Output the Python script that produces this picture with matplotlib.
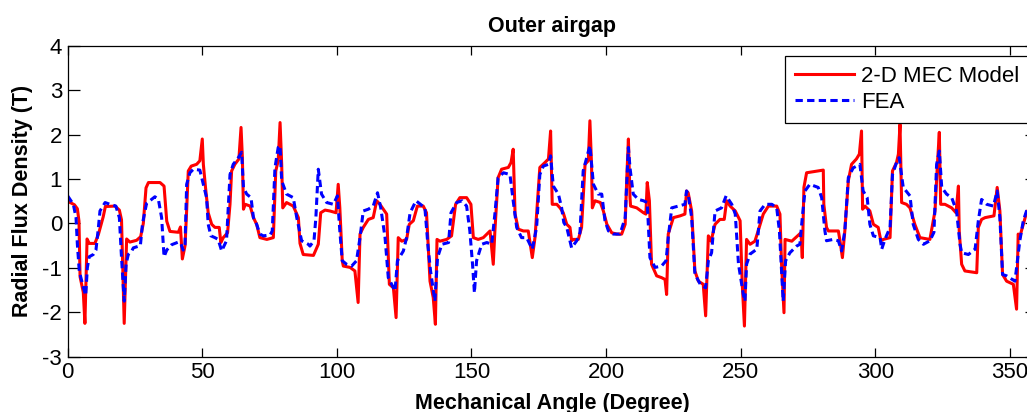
import matplotlib
matplotlib.use('Agg')
import matplotlib.pyplot as plt

plt.rcParams['font.family'] = ['Liberation Sans', 'DejaVu Sans']
plt.rcParams['axes.unicode_minus'] = False

# angle (degree) / radial flux density (T)
mec_angle = [0, 2.5, 3.6, 4.2, 4.6, 5.8, 6.4, 7.2, 8.0, 10.1, 11.4, 13.2, 14.0, 17.6, 19.2, 20.0, 20.7, 21.0, 21.9,
             23.1, 25.6, 27.1, 28.1, 29.1, 30.0, 34.3, 35.8, 36.8, 38.0, 41.1, 41.9, 42.6, 43.6, 44.2, 44.8, 45.9,
             47.9, 49.1, 50.0, 50.4, 51.2, 52.2, 53.5, 54.7, 56.3, 56.9, 57.8, 59.4, 60.3, 60.9, 62.1, 63.6, 64.4,
             64.9, 65.3, 66.0, 67.8, 69.0, 70.2, 71.4, 74.0, 76.4, 77.3, 78.2, 78.9, 79.5, 79.9, 81.3, 83.8, 85.7,
             86.3, 87.5, 91.3, 93.1, 94.0, 95.6, 97.4, 99.7, 100.5, 101.1, 102.0, 102.4, 104.9, 106.7, 107.9, 108.6,
             109.8, 111.7, 113.5, 114.8, 116.0, 118.5, 119.5, 121.0, 122.0, 122.8, 124.1, 125.9, 126.9, 128.4,
             129.9, 132.1, 133.3, 134.6, 135.8, 136.6, 137.2, 138.3, 140.8, 142.6, 144.1, 145.7, 148.2, 149.8,
             150.7, 152.5, 154.4, 156.9, 158.1, 158.7, 159.9, 161.2, 163.7, 164.7, 165.5, 166.2, 167.4, 169.3,
             171.1, 172.6, 173.6, 175.4, 177.3, 178.6, 179.4, 180.0, 181.7, 182.9, 184.1, 185.4, 186.6, 187.2,
             187.8, 189.7, 190.9, 192.2, 193.4, 194.0, 194.6, 194.9, 195.9, 197.9, 199.0, 200.3, 202.1, 204.0,
             205.8, 207.1, 207.7, 208.3, 208.9, 209.1, 211.4, 213.9, 214.8, 215.3, 216.1, 216.9, 218.8, 220.6,
             221.9, 222.5, 223.1, 225.0, 227.5, 229.3, 229.9, 230.5, 231.8, 233.0, 234.3, 236.1, 237.0, 238.0,
             239.0, 240.5, 242.3, 243.9, 244.8, 246.1, 248.0, 249.8, 250.6, 251.4, 252.2, 253.5, 255.3, 256.5,
             258.4, 260.3, 263.4, 264.6, 265.2, 266.1, 266.5, 269.0, 272.4, 272.9, 273.5, 274.5, 280.7, 280.9,
             281.9, 282.6, 286.3, 286.9, 287.8, 288.7, 290.0, 291.2, 293.0, 294.1, 294.9, 295.3, 296.2, 298.0,
             299.3, 301.1, 302.1, 303.0, 305.5, 306.4, 307.9, 308.6, 309.2, 309.8, 311.6, 312.9, 314.7, 316.6,
             320.3, 322.2, 323.1, 323.8, 324.3, 325.9, 328.4, 330.0, 330.9, 331.2, 332.1, 333.3, 337.7, 338.3,
             339.5, 340.8, 344.1, 345.3, 346.3, 347.3, 348.8, 351.3, 352.5, 353.1, 353.7, 354.3, 356.2, 358, 360]
mec_flux = [0.5, 0.42, 0.33, 0.05, -1.2, -1.55, -2.25, -0.35, -0.45, -0.45, -0.25, 0.15, 0.38, 0.39, 0.3, 0.08, -1.5,
            -2.25, -0.35, -0.42, -0.38, -0.3, 0.0, 0.8, 0.92, 0.92, 0.84, 0.05, -0.18, -0.2, -0.08, -0.8, -0.5, 0.3,
            1.18, 1.29, 1.33, 1.41, 1.9, 1.33, 0.81, 0.24, -0.02, -0.09, -0.09, -0.43, -0.32, -0.21, 0.43, 1.18,
            1.33, 1.45, 2.16, 1.48, 0.32, 0.43, 0.39, 0.13, -0.02, -0.32, -0.36, -0.32, 1.18, 1.41, 2.27, 1.33,
            0.35, 0.47, 0.39, 0.13, -0.45, -0.7, -0.72, -0.47, 0.24, 0.3, 0.28, 0.24, 0.88, 0.35, -0.84, -0.96,
            -0.99, -1.07, -1.78, -0.24, -0.09, 0.09, 0.13, 0.51, 0.43, 0.21, -1.37, -1.45, -2.12, -0.32, -0.4,
            -0.36, -0.02, 0.06, 0.39, 0.39, 0.24, -1.3, -1.67, -2.27, -0.36, -0.4, -0.36, -0.28, 0.43, 0.58, 0.58,
            0.43, -0.32, -0.36, -0.32, -0.17, -0.92, -0.17, 1.03, 1.22, 1.26, 1.37, 1.67, 0.21, -0.13, -0.17,
            -0.17, -0.77, -0.32, 1.26, 1.37, 1.45, 2.08, 0.43, 0.43, 0.35, 0.24, -0.02, -0.09, -0.39, -0.36,
            -0.36, -0.09, 1.33, 1.41, 2.31, 1.33, 0.35, 0.51, 0.47, 0.28, -0.02, -0.21, -0.24, -0.24, -0.02, 1.03,
            1.9, 0.58, 0.39, 0.35, 0.24, 0.21, 0.92, 0.51, -0.92, -1.18, -1.22, -1.26, -1.6, -0.24, 0.13, 0.17,
            0.21, 0.73, 0.69, 0.28, -1.07, -1.3, -1.37, -2.08, -0.28, -0.4, -0.02, 0.09, 0.09, 0.51, 0.39, 0.28,
            0.06, -1.37, -2.31, -0.36, -0.47, -0.4, -0.17, 0.21, 0.39, 0.39, 0.21, -0.92, -2.01, -0.36, -0.4,
            -0.21, -0.77, 0.81, 1.14, 1.2, 0.43, -0.09, -0.17, -0.17, -0.39, -0.77, -0.17, 0.96, 1.33, 1.45, 1.56,
            2.08, 0.32, 0.39, 0.28, -0.02, -0.09, -0.39, -0.36, -0.32, 1.18, 1.37, 1.56, 2.23, 0.47, 0.43, 0.35,
            -0.02, -0.32, -0.36, 0.28, 1.33, 2.05, 0.43, 0.43, 0.35, 0.24, 0.84, -0.17, -0.92, -1.07, -1.11, -0.09,
            0.09, 0.13, 0.17, 0.81, 0.28, -1.15, -1.3, -1.37, -1.93, -0.24, -0.32, -0.17, 0.24, 0.42, 0.5]

fea_angle = [0, 2.1, 3.1, 3.6, 4.3, 5.8, 6.7, 7.3, 8.0, 9.5, 10.5, 11.4, 12.0, 13.9, 15.7, 17.9, 19.2, 20.0, 21.0,
             21.7, 22.5, 23.8, 24.4, 27.0, 27.8, 29.3, 32.4, 33.7, 34.9, 35.8, 36.8, 38.6, 41.1, 42.0, 42.9, 43.6,
             44.2, 45.4, 46.7, 49.1, 50.4, 51.6, 52.2, 53.2, 54.7, 55.9, 57.2, 59.0, 60.3, 61.5, 63.4, 64.6, 65.3,
             66.5, 68.1, 69.0, 70.2, 71.4, 72.7, 75.2, 76.0, 77.0, 78.2, 78.9, 79.5, 81.3, 83.8, 85.1, 86.9, 89.4,
             90.0, 91.5, 92.2, 93.1, 94.3, 96.2, 98.7, 100.2, 101.1, 102.0, 103.6, 105.5, 107.3, 108.6, 109.8,
             111.7, 113.5, 115.1, 116.3, 117.9, 119.1, 121.6, 122.5, 124.7, 125.9, 127.2, 129.4, 132.7, 133.9,
             134.8, 136.4, 137.4, 139.0, 141.5, 142.4, 144.5, 146.5, 148.2, 149.4, 150.4, 151.1, 151.9, 153.8,
             155.7, 157.5, 158.7, 159.9, 161.9, 164.3, 165.5, 166.8, 168.6, 170.5, 172.6, 174.2, 175.4, 176.7,
             178.6, 179.4, 180.4, 182.3, 183.5, 184.3, 185.4, 187.2, 189.1, 190.3, 191.5, 192.8, 194.0, 195.3,
             197.1, 198.4, 199.6, 200.9, 202.7, 205.2, 207.1, 208.3, 208.9, 210.1, 212.0, 213.9, 215.3, 216.3,
             218.2, 220.6, 222.3, 223.1, 224.4, 226.9, 229.3, 229.9, 230.5, 231.8, 233.0, 235.0, 237.0, 238.0,
             239.2, 240.5, 242.9, 244.6, 246.7, 248.0, 249.2, 251.0, 251.6, 252.2, 253.5, 256.0, 257.2, 259.1,
             261.6, 263.4, 264.4, 265.2, 265.8, 266.7, 268.3, 270.8, 272.0, 272.9, 273.9, 275.7, 278.8, 280.1,
             281.3, 281.9, 284.4, 286.3, 287.5, 288.7, 290.0, 291.8, 294.3, 295.5, 297.0, 298.0, 299.3, 301.8,
             302.4, 303.6, 305.5, 306.4, 307.9, 308.9, 310.4, 312.9, 314.1, 316.0, 317.9, 320.3, 321.8, 322.8,
             323.8, 324.7, 326.5, 328.4, 330.2, 331.5, 332.1, 334.6, 337.1, 338.3, 339.5, 341.4, 343.9, 345.3,
             346.3, 347.3, 348.8, 351.9, 352.8, 353.7, 355.0, 356.2, 358, 360]
fea_flux = [0.62, 0.43, 0.13, -0.47, -1.07, -1.44, -1.62, -1.0, -0.75, -0.7, -0.6, -0.1, 0.28, 0.47, 0.43, 0.39, 0.13,
            -0.77, -1.75, -0.92, -0.7, -0.62, -0.55, -0.5, 0.0, 0.45, 0.6, 0.54, 0.13, -0.75, -0.6, -0.48, -0.42,
            -0.45, -0.6, -0.47, 0.88, 1.14, 1.22, 1.2, 0.88, 0.58, -0.02, -0.28, -0.32, -0.36, -0.62, -0.39, 1.1,
            1.33, 1.48, 1.6, 0.81, 0.66, 0.58, 0.13, -0.02, -0.24, -0.28, -0.26, -0.17, 1.25, 1.71, 1.75, 0.96,
            0.66, 0.58, 0.13, -0.39, -0.47, -0.51, -0.39, 0.13, 1.22, 0.66, 0.47, 0.43, 0.62, -0.17, -0.84, -0.92,
            -0.96, -0.84, -0.32, 0.28, 0.32, 0.39, 0.69, 0.35, -0.32, -1.22, -1.52, -0.84, -0.62, -0.32, 0.24,
            0.51, 0.35, -0.55, -1.07, -1.75, -0.77, -0.47, -0.43, 0.24, 0.47, 0.51, 0.39, -0.17, -0.92, -1.56,
            -0.84, -0.47, -0.43, -0.47, 0.21, 1.03, 1.14, 1.1, 0.51, -0.09, -0.32, -0.32, -0.58, -0.09, 1.1, 1.29,
            1.33, 1.52, 0.84, 0.66, 0.35, 0.02, -0.09, -0.55, -0.39, -0.21, 1.18, 1.48, 1.75, 0.88, 0.66, 0.66,
            0.06, -0.17, -0.24, -0.24, 0.13, 1.71, 1.25, 0.66, 0.54, 0.51, 0.47, -0.77, -0.99, -0.96, -0.84, -0.32,
            0.35, 0.39, 0.43, 0.73, 0.66, 0.13, -1.14, -1.37, -1.45, -0.84, -0.66, 0.28, 0.35, 0.62, 0.43, 0.21,
            -0.92, -1.6, -1.75, -0.92, -0.69, -0.58, 0.28, 0.43, 0.43, 0.35, -0.17, -1.07, -1.75, -0.84, -0.66,
            -0.51, -0.47, 0.13, 0.73, 0.88, 0.81, 0.58, -0.17, -0.39, -0.36, -0.39, -0.62, -0.17, 1.03, 1.25, 1.33,
            0.73, 0.58, -0.02, -0.28, -0.32, -0.58, -0.36, -0.09, 1.1, 1.37, 1.48, 0.81, 0.62, -0.02, -0.36, -0.47,
            -0.39, -0.2, 1.33, 1.63, 0.81, 0.66, 0.58, 0.28, -0.47, -0.66, -0.7, -0.58, 0.06, 0.54, 0.43, 0.39,
            0.73, 0.13, -1.15, -1.18, -1.3, -0.84, -0.39, 0.06, 0.28, 0.5, 0.62]

x_ticks = [0, 50, 100, 150, 200, 250, 300, 350]
y_ticks = [-3, -2, -1, 0, 1, 2, 3, 4]

fig = plt.figure(figsize=(10.27, 4.12), dpi=100)
# axes run on past the right edge of the picture, as in the original
ax = fig.add_axes([0.0659, 0.1342, 0.9436, 0.7549])

ax.plot(mec_angle, mec_flux, '-', color='#ff0000', linewidth=2.2, label='2-D MEC Model')
ax.plot(fea_angle, fea_flux, '--', color='#0000ff', linewidth=2.2, dashes=(2.4, 1.4), label='FEA')

ax.set_xlim(0, 360)
ax.set_ylim(-3, 4)
ax.set_xticks(x_ticks)
ax.set_yticks(y_ticks)
ax.tick_params(axis='both', direction='in', top=True, right=True, labelsize=16, width=0.9)
ax.tick_params(axis='x', length=6.5, pad=3.5)
ax.tick_params(axis='y', length=8.5, pad=4)
for s in ax.spines.values():
    s.set_linewidth(0.9)

ax.set_title('Outer airgap', fontsize=15.5, fontweight='bold', pad=10)
ax.set_xlabel('Mechanical Angle (Degree)', fontsize=15.5, fontweight='bold', labelpad=7.5)
ax.set_ylabel('Radial Flux Density (T)', fontsize=15.5, fontweight='bold', labelpad=7)

leg = ax.legend(loc='upper right', bbox_to_anchor=(0.992, 0.968), borderaxespad=0, fontsize=16,
                handlelength=2.65, handletextpad=0.32, labelspacing=0.25, borderpad=0.45,
                fancybox=False, framealpha=1, edgecolor='black')
leg.get_frame().set_linewidth(0.9)

plt.savefig('out.png', dpi=100)
